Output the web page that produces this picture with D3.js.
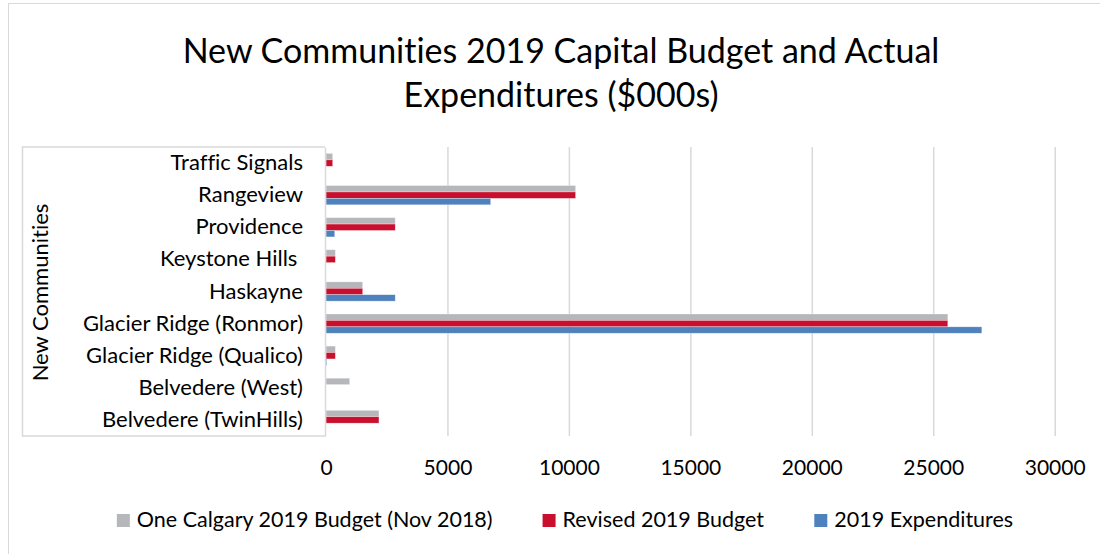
<!DOCTYPE html>
<html>
<head>
<meta charset="utf-8">
<script src="https://cdn.jsdelivr.net/npm/d3@7"></script>
<style>
  html, body { margin: 0; padding: 0; background: #fff; }
  svg { display: block; font-family: Lato, "Open Sans", sans-serif; font-variant-ligatures: none; }
</style>
</head>
<body>
<svg id="chart" width="1100" height="554"></svg>
<script>
// Communities, listed top to bottom
const categories = [
  "Traffic Signals",
  "Rangeview",
  "Providence",
  "Keystone Hills ",
  "Haskayne",
  "Glacier Ridge (Ronmor)",
  "Glacier Ridge (Qualico)",
  "Belvedere (West)",
  "Belvedere (TwinHills)"
];

// Values in $000s, same order as categories
const oneCalgaryBudget = [275, 10275, 2850, 385, 1510, 25600, 385, 975, 2180];
const revisedBudget    = [275, 10275, 2850, 385, 1510, 25600, 385, 0, 2180];
const expenditures     = [0, 6780, 360, 0, 2850, 27000, 30, 0, 0];

const seriesNames = ["One Calgary 2019 Budget (Nov 2018)", "Revised 2019 Budget", "2019 Expenditures"];
const seriesColors = ["#B5B7BB", "#C8102E", "#4F81BD"];
const xTicks = [0, 5000, 10000, 15000, 20000, 25000, 30000];

const titleLines = ["New Communities 2019 Capital Budget and Actual", "Expenditures ($000s)"];
const yTitle = "New Communities";

const seriesValues = [oneCalgaryBudget, revisedBudget, expenditures];

const FONT = "Lato, 'Open Sans', sans-serif";
const svg = d3.select("#chart");
const W = 1100, H = 554;

// chart area frame (extends past the right and bottom edges)
svg.append("rect")
  .attr("x", 8.5).attr("y", 3.5)
  .attr("width", W + 10).attr("height", H + 10)
  .attr("fill", "#fff").attr("stroke", "#D9D9D9").attr("stroke-width", 1);

const plot = { left: 326, right: 1054.7, top: 147, bottom: 436 };

const x = d3.scaleLinear().domain([0, 30000]).range([plot.left, plot.right]);
const y = d3.scaleBand().domain(categories).range([plot.top, plot.bottom]).paddingInner(0.4).paddingOuter(0.2);
const ySub = d3.scaleBand().domain(d3.range(seriesNames.length)).range([0, y.bandwidth()]);

// Title
svg.append("g").selectAll("text")
  .data(titleLines)
  .join("text")
  .attr("x", 561)
  .attr("y", (d, i) => 63 + i * 44)
  .attr("text-anchor", "middle")
  .attr("font-size", 34)
  .attr("fill", "#000")
  .text(d => d);

// Gridlines
svg.append("g")
  .attr("transform", `translate(0,${plot.bottom})`)
  .call(d3.axisBottom(x).tickValues(xTicks).tickSize(-(plot.bottom - plot.top)).tickFormat(""))
  .call(g => g.select(".domain").remove())
  .call(g => g.selectAll(".tick line").attr("stroke", "#D9D9D9").attr("stroke-width", 1.5))
  .call(g => g.selectAll(".tick").filter(d => d === 0).remove());

// X tick labels
svg.append("g")
  .attr("transform", `translate(0,${plot.bottom})`)
  .call(d3.axisBottom(x).tickValues(xTicks).tickSize(0).tickPadding(24).tickFormat(d3.format("d")))
  .call(g => g.select(".domain").remove())
  .call(g => g.selectAll("text")
    .attr("font-family", FONT)
    .attr("font-size", 21).attr("fill", "#000"));

// Category label box
svg.append("path")
  .attr("d", `M${plot.left - 1},${plot.top} H22.5 V${plot.bottom} H${plot.left - 1}`)
  .attr("fill", "none").attr("stroke", "#D9D9D9").attr("stroke-width", 1.5);

// Bars
const groups = svg.append("g").selectAll("g")
  .data(categories)
  .join("g")
  .attr("transform", d => `translate(0,${y(d)})`);

groups.selectAll("rect")
  .data((d, ci) => seriesValues.map((vals, si) => ({ si, v: vals[ci] })))
  .join("rect")
  .attr("x", x(0))
  .attr("y", d => ySub(d.si))
  .attr("width", d => Math.max(0, x(d.v) - x(0)))
  .attr("height", ySub.bandwidth())
  .attr("fill", d => seriesColors[d.si])
  .attr("stroke", d => d.v > 0 ? "rgba(255,255,255,0.5)" : "none")
  .attr("stroke-width", 0.6);

// Vertical axis with category labels
svg.append("g")
  .attr("transform", `translate(${plot.left - 1},0)`)
  .call(d3.axisLeft(y).tickSize(0).tickPadding(22))
  .call(g => g.select(".domain").attr("stroke", "#D9D9D9").attr("stroke-width", 1.5))
  .call(g => g.selectAll("text")
    .attr("font-family", FONT)
    .attr("font-size", 22).attr("fill", "#000")
    .style("white-space", "pre"));

// Y axis title
svg.append("text")
  .attr("transform", `translate(48,${(plot.top + plot.bottom) / 2 + 1}) rotate(-90)`)
  .attr("text-anchor", "middle")
  .attr("font-size", 22)
  .attr("fill", "#000")
  .text(yTitle);

// Legend
const legend = svg.append("g").attr("transform", "translate(0,527)");
const items = legend.selectAll("g").data(seriesNames).join("g");
items.append("rect")
  .attr("width", 13).attr("height", 13).attr("y", -13)
  .attr("fill", (d, i) => seriesColors[i]);
items.append("text")
  .attr("x", 20)
  .attr("font-size", 21.5).attr("fill", "#000")
  .text(d => d);
const widths = [];
items.each(function () { widths.push(this.getBBox().width); });
const gap = 50;
const total = d3.sum(widths) + gap * (widths.length - 1);
let cx = 565 - total / 2;
items.attr("transform", (d, i) => {
  const t = `translate(${cx},0)`;
  cx += widths[i] + gap;
  return t;
});
</script>
</body>
</html>
